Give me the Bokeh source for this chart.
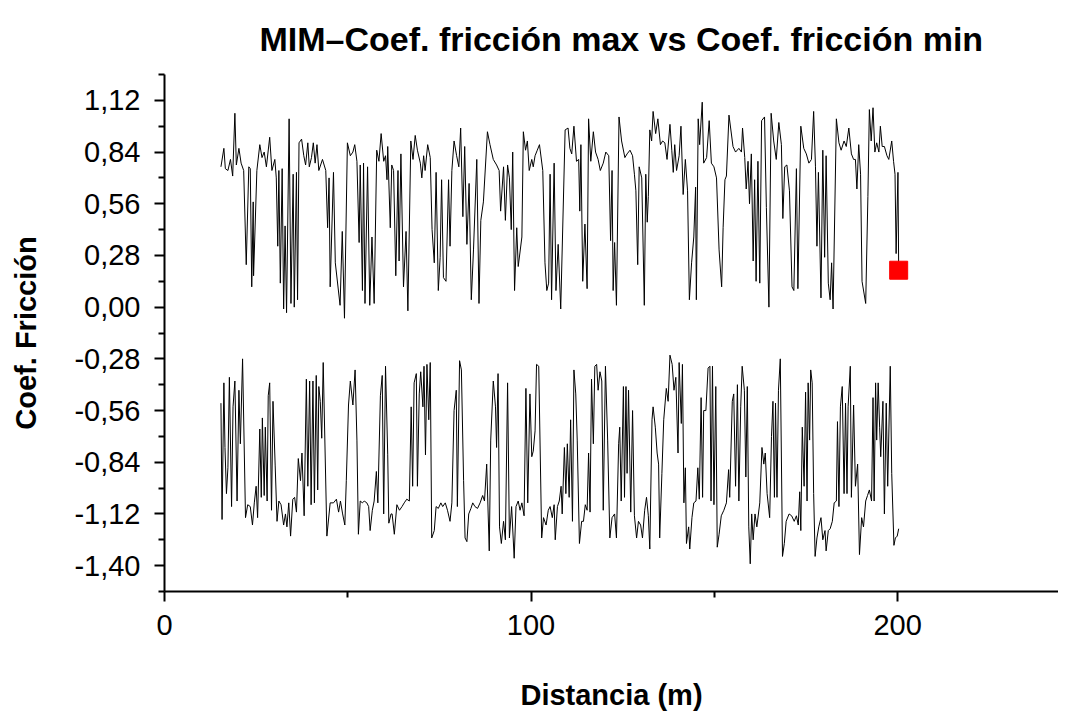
from bokeh.plotting import figure
from bokeh.models import Range1d, FixedTicker
from bokeh.embed import file_html
from bokeh.resources import INLINE

# ---------------- data ----------------
title_text = "MIM\u2013Coef. fricción max vs Coef. fricción min"
x_label = "Distancia (m)"
y_label = "Coef. Fricción"

x_ticks = [0, 100, 200]
x_minor = [50, 150]
y_ticks = [-1.40, -1.12, -0.84, -0.56, -0.28, 0.00, 0.28, 0.56, 0.84, 1.12]
y_tick_labels = ["-1,40", "-1,12", "-0,84", "-0,56", "-0,28", "0,00", "0,28", "0,56", "0,84", "1,12"]
y_minor = [-1.54, -1.26, -0.98, -0.70, -0.42, -0.14, 0.14, 0.42, 0.70, 0.98, 1.26]

# Coef. fricción max (distance m, value)
max_pts = [
    (15.4, 0.76), (16.2, 0.86), (16.6, 0.75), (17.3, 0.74), (18.0, 0.80), (18.6, 0.71),
    (19.2, 1.05), (19.6, 0.77), (20.3, 0.86), (20.9, 0.78), (21.6, 0.74), (22.3, 0.23),
    (23.0, 0.76), (23.4, 0.75), (23.8, 0.11), (24.2, 0.57), (24.3, 0.17), (25.2, 0.74),
    (26.0, 0.88), (26.6, 0.81), (27.2, 0.84), (27.8, 0.76), (28.7, 0.92), (29.3, 0.74),
    (30.1, 0.80), (30.5, 0.70), (30.9, 0.33), (31.2, 0.74), (31.6, 0.13), (32.1, 0.75),
    (32.5, -0.01), (32.9, 0.44), (33.3, -0.03), (34.0, 1.02), (34.5, 0.02), (35.1, 0.72),
    (35.4, 0.00), (36.0, 0.73), (36.3, 0.04), (36.7, 0.89), (37.4, 0.91), (38.0, 0.82),
    (38.5, 0.77), (39.1, 0.89), (39.5, 0.76), (40.1, 0.81), (40.6, 0.89), (41.1, 0.78),
    (41.6, 0.88), (42.1, 0.74), (43.1, 0.80), (44.0, 0.74), (44.5, 0.43), (44.9, 0.70),
    (45.2, 0.11), (46.1, 0.73), (46.6, 0.24), (47.9, 0.01), (48.5, 0.41), (49.1, -0.06),
    (49.9, 0.89), (50.7, 0.82), (51.4, 0.84), (51.9, 0.88), (52.5, 0.79), (53.1, 0.35),
    (53.4, 0.77), (54.0, 0.09), (54.3, 0.78), (54.7, 0.02), (55.4, 0.76), (56.0, 0.01),
    (56.6, 0.38), (57.2, 0.02), (57.9, 0.85), (58.5, 0.79), (59.1, 0.94), (59.8, 0.79),
    (60.3, 0.82), (60.7, 0.69), (60.9, 0.87), (61.6, 0.43), (62.0, 0.77), (62.5, 0.74),
    (63.1, 0.17), (63.7, 0.74), (64.0, 0.25), (64.5, 0.83), (65.2, 0.11), (65.9, 0.41),
    (66.4, -0.02), (67.2, 0.90), (67.8, 0.80), (68.4, 0.93), (69.0, 0.85), (69.8, 0.78),
    (70.2, 0.70), (70.7, 0.82), (71.1, 0.74), (71.8, 0.88), (72.5, 0.81), (73.0, 0.42),
    (73.6, 0.24), (74.1, 0.73), (74.7, 0.09), (75.2, 0.27), (75.6, 0.69), (76.1, 0.16),
    (76.8, 0.14), (77.5, 0.69), (77.9, 0.33), (78.4, 0.74), (79.0, 0.90), (79.7, 0.82),
    (80.3, 0.76), (80.8, 0.97), (81.4, 0.49), (81.9, 0.87), (82.5, 0.34), (83.1, 0.67),
    (83.7, 0.04), (84.3, 0.31), (85.2, 0.80), (85.8, 0.02), (86.3, 0.47), (87.0, 0.57),
    (88.1, 0.95), (88.8, 0.88), (89.7, 0.80), (90.6, 0.77), (91.3, 0.74), (91.7, 0.52),
    (92.5, 0.76), (93.0, 0.47), (93.6, 0.77), (94.1, 0.70), (94.6, 0.42), (95.0, 0.84),
    (95.5, 0.09), (96.1, 0.43), (96.5, 0.22), (97.5, 0.38), (97.9, 0.95), (98.5, 0.85),
    (99.0, 0.90), (99.5, 0.74), (100.2, 0.80), (100.6, 0.76), (101.1, 0.82), (101.7, 0.85),
    (102.3, 0.88), (103.2, 0.74), (103.8, 0.24), (104.3, 0.09), (104.8, 0.13), (105.2, 0.72),
    (105.6, 0.04), (106.3, 0.78), (106.8, 0.09), (107.4, 0.34), (108.1, -0.01), (109.3, 0.96),
    (110.1, 0.97), (110.6, 0.86), (111.1, 0.83), (111.7, 0.98), (112.4, 0.79), (113.0, 0.80),
    (113.3, 0.52), (113.6, 0.88), (114.1, 0.14), (114.7, 0.45), (115.3, 0.10), (115.7, 1.02),
    (116.3, 0.79), (117.0, 0.95), (117.6, 0.84), (118.3, 0.80), (118.9, 0.74), (119.7, 0.78),
    (120.4, 0.84), (121.2, 0.82), (121.7, 0.36), (122.1, 0.74), (122.4, 0.09), (122.8, 0.35),
    (123.3, 0.01), (124.0, 1.03), (124.7, 0.90), (125.6, 0.81), (126.2, 0.83), (127.0, 0.85),
    (127.7, 0.82), (128.2, 0.72), (128.6, 0.63), (129.1, 0.23), (129.5, 0.76), (130.2, 0.70),
    (130.9, 0.01), (131.3, 0.72), (131.7, 0.46), (132.0, 0.60), (132.4, 0.96), (132.9, 0.90),
    (133.3, 1.06), (134.0, 0.94), (134.6, 1.02), (135.3, 0.88), (135.9, 0.90), (136.5, 0.89),
    (137.1, 0.80), (137.9, 0.99), (138.4, 0.85), (138.8, 0.73), (139.2, 0.88), (139.7, 0.74),
    (140.4, 0.82), (140.9, 0.98), (141.5, 0.61), (142.1, 0.80), (142.7, 0.63), (143.2, 0.04),
    (143.8, 0.24), (144.4, 0.38), (144.9, 0.65), (145.1, 0.04), (145.6, 1.02), (146.0, 0.88),
    (146.7, 1.11), (147.1, 0.78), (147.9, 0.81), (148.6, 1.01), (149.2, 0.78), (149.9, 0.76),
    (150.6, 0.70), (151.3, 0.31), (152.0, 0.11), (152.4, 0.43), (152.9, 0.69), (153.3, 0.71),
    (154.0, 1.04), (155.1, 0.87), (155.8, 0.84), (156.7, 0.86), (157.4, 0.84), (157.7, 0.97),
    (158.3, 0.81), (158.7, 0.64), (159.2, 0.79), (159.6, 0.56), (160.1, 0.83), (160.6, 0.25),
    (161.0, 0.69), (161.4, 0.14), (161.9, 0.79), (162.4, 0.13), (162.9, 1.01), (163.7, 1.03),
    (164.2, 0.54), (164.9, 0.00), (165.5, 1.05), (166.2, 0.90), (166.9, 0.80), (167.6, 1.00),
    (168.3, 0.88), (168.7, 0.48), (169.2, 0.76), (169.8, 0.77), (170.5, 0.63), (171.2, 0.11),
    (171.7, 0.09), (172.4, 0.75), (172.8, 0.10), (173.6, 0.98), (174.4, 0.86), (175.1, 0.83),
    (175.8, 0.78), (176.5, 0.80), (177.1, 1.06), (177.6, 0.76), (178.0, 0.33), (178.4, 0.73),
    (179.1, 0.05), (179.6, 0.85), (180.1, 0.27), (180.5, 0.82), (181.1, 0.13), (181.6, 0.04),
    (182.0, 0.24), (182.4, -0.01), (183.3, 1.02), (184.0, 0.89), (184.6, 0.85), (185.4, 0.90),
    (186.0, 0.87), (186.7, 0.97), (187.4, 0.83), (188.0, 0.80), (188.5, 0.80), (188.9, 0.64),
    (189.4, 0.88), (189.9, 0.72), (190.3, 0.14), (191.3, 0.02), (191.9, 0.60), (192.3, 1.07),
    (192.8, 0.90), (193.3, 1.08), (193.8, 0.84), (194.3, 0.89), (194.9, 0.84), (195.3, 0.98),
    (195.8, 0.87), (196.4, 0.87), (197.1, 0.82), (197.6, 0.80), (198.4, 0.90), (198.9, 0.79),
    (199.3, 0.72), (199.6, 0.29), (200.1, 0.73), (200.3, 0.20),
]

# Coef. fricción min (distance m, value)
min_pts = [
    (15.4, -0.52), (15.7, -1.15), (16.2, -0.41), (16.5, -0.76), (16.9, -1.01), (17.3, -0.87),
    (17.7, -0.38), (18.3, -1.08), (18.7, -0.54), (19.2, -0.40), (19.8, -1.05), (20.3, -0.45),
    (20.7, -0.74), (21.3, -0.28), (22.1, -1.14), (22.7, -1.07), (23.4, -1.08), (24.0, -1.18),
    (24.5, -1.06), (25.0, -0.97), (25.4, -1.14), (26.0, -0.66), (26.4, -1.03), (26.7, -0.60),
    (27.2, -1.02), (27.5, -0.65), (28.0, -1.05), (28.3, -0.48), (28.7, -0.41), (29.2, -1.10),
    (29.6, -0.51), (30.2, -0.86), (30.7, -1.16), (31.2, -1.05), (31.8, -1.07), (32.5, -1.18),
    (33.0, -1.12), (33.4, -1.19), (33.9, -1.06), (34.4, -1.24), (35.0, -1.04), (35.5, -1.03),
    (36.0, -1.11), (36.5, -0.82), (37.1, -0.94), (37.5, -0.79), (38.1, -1.13), (38.7, -0.39),
    (39.1, -0.97), (39.6, -0.40), (40.0, -1.07), (40.5, -0.40), (40.9, -1.06), (41.4, -0.37),
    (41.8, -0.99), (42.1, -0.43), (42.5, -0.51), (42.9, -0.71), (43.3, -0.30), (44.3, -1.24),
    (45.2, -1.06), (46.1, -1.06), (46.9, -1.04), (47.5, -1.11), (48.0, -1.05), (48.6, -1.12),
    (49.2, -1.18), (49.6, -0.94), (50.2, -0.53), (50.7, -0.40), (51.4, -0.53), (52.0, -0.34),
    (52.5, -0.72), (52.9, -1.23), (53.4, -1.05), (54.0, -1.06), (54.5, -1.05), (55.2, -1.06),
    (55.7, -1.08), (56.1, -1.21), (56.7, -1.10), (57.2, -1.05), (57.8, -0.89), (58.2, -1.06),
    (58.9, -0.48), (59.4, -0.37), (59.8, -1.12), (60.3, -0.32), (60.9, -0.80), (61.2, -1.17),
    (61.8, -1.12), (62.1, -1.12), (62.7, -1.23), (63.4, -1.07), (64.1, -1.10), (64.8, -1.08),
    (65.4, -1.06), (66.1, -1.04), (66.8, -1.05), (67.3, -0.54), (67.7, -0.97), (68.1, -0.41),
    (68.7, -0.36), (69.0, -0.97), (69.5, -0.47), (69.9, -0.35), (70.5, -0.54), (70.8, -0.32),
    (71.2, -0.80), (71.6, -0.31), (72.1, -0.61), (72.5, -0.30), (72.9, -1.25), (73.6, -1.21),
    (74.1, -1.08), (74.7, -1.09), (75.4, -1.06), (75.9, -1.08), (76.6, -1.06), (77.2, -1.10),
    (77.9, -1.16), (78.4, -1.06), (79.0, -0.56), (79.6, -0.45), (79.9, -1.08), (80.5, -0.29),
    (81.0, -0.34), (81.6, -0.94), (82.0, -1.25), (82.5, -1.27), (83.0, -1.12), (83.6, -1.09),
    (84.1, -1.06), (84.7, -1.08), (85.4, -1.09), (86.1, -1.06), (86.8, -1.02), (87.3, -1.05),
    (87.9, -0.85), (88.6, -1.32), (89.0, -0.72), (89.7, -0.40), (90.3, -0.54), (90.6, -0.76),
    (91.0, -0.36), (91.4, -1.19), (91.9, -1.28), (92.5, -1.16), (93.0, -1.26), (93.6, -0.41),
    (94.1, -1.25), (94.7, -1.08), (95.4, -1.36), (95.9, -1.08), (96.5, -1.05), (97.0, -1.10),
    (97.5, -1.06), (98.1, -1.13), (98.6, -0.44), (99.1, -1.06), (99.7, -0.47), (100.2, -0.81),
    (100.6, -0.78), (101.1, -0.67), (101.5, -0.31), (102.1, -0.32), (102.9, -1.25), (103.4, -1.14),
    (104.1, -1.18), (104.7, -1.10), (105.2, -1.08), (105.8, -1.14), (106.3, -1.07), (106.6, -1.26),
    (107.2, -1.08), (107.7, -1.05), (108.2, -0.97), (108.5, -1.12), (109.1, -0.76), (109.5, -1.01),
    (109.9, -0.74), (110.4, -1.03), (110.8, -0.61), (111.3, -1.16), (111.7, -0.34), (112.2, -0.47),
    (112.6, -0.72), (113.2, -1.28), (113.8, -1.16), (114.3, -1.16), (114.8, -1.07), (115.3, -1.10),
    (115.7, -0.79), (116.1, -1.11), (116.5, -0.39), (117.0, -0.74), (117.4, -0.32), (117.9, -0.31),
    (118.3, -0.45), (118.8, -0.35), (119.3, -0.40), (119.7, -1.10), (120.3, -0.32), (120.9, -0.72),
    (121.5, -1.25), (122.1, -1.14), (122.8, -1.12), (123.3, -1.25), (123.9, -0.74), (124.2, -0.65),
    (124.6, -1.05), (125.2, -0.43), (125.5, -1.03), (125.9, -0.43), (126.2, -0.90), (126.6, -0.45),
    (127.2, -1.11), (127.7, -0.56), (128.2, -1.13), (128.8, -1.25), (129.3, -1.16), (129.9, -1.18),
    (130.4, -1.25), (131.0, -1.10), (131.5, -1.03), (132.0, -1.13), (132.4, -1.31), (133.0, -0.61),
    (133.3, -0.54), (133.9, -0.65), (134.4, -0.79), (134.8, -0.85), (135.1, -1.25), (135.7, -0.90),
    (136.2, -0.61), (136.9, -0.44), (137.4, -0.51), (137.9, -0.26), (138.5, -0.31), (139.0, -0.45),
    (139.5, -0.38), (140.1, -0.79), (140.4, -0.30), (141.0, -0.63), (141.3, -0.31), (141.7, -1.06),
    (142.1, -0.87), (142.4, -1.28), (143.0, -1.19), (143.3, -1.31), (143.9, -1.14), (144.4, -1.06),
    (145.0, -1.05), (145.5, -0.87), (145.9, -1.04), (146.4, -0.49), (146.8, -1.03), (147.1, -0.56),
    (147.7, -0.56), (148.3, -0.33), (148.8, -0.32), (149.1, -1.05), (149.5, -0.32), (149.9, -1.07),
    (150.4, -0.43), (150.8, -1.30), (151.3, -1.23), (151.9, -1.13), (152.6, -1.10), (153.3, -1.06),
    (153.9, -0.88), (154.2, -1.03), (154.9, -0.51), (155.3, -0.47), (155.8, -0.97), (156.3, -0.42),
    (156.7, -1.05), (157.2, -0.54), (157.6, -0.32), (158.2, -0.45), (158.6, -0.92), (159.0, -0.43),
    (159.4, -1.19), (159.8, -1.39), (160.2, -1.12), (160.6, -1.26), (161.1, -1.12), (161.6, -1.19),
    (162.4, -1.06), (163.0, -0.76), (163.5, -0.85), (163.9, -0.79), (164.4, -1.01), (165.1, -1.14),
    (165.6, -0.70), (166.0, -0.51), (166.4, -1.03), (166.7, -0.52), (167.1, -1.03), (167.5, -0.45),
    (168.0, -0.28), (168.6, -1.35), (169.1, -1.28), (169.6, -1.16), (170.4, -1.12), (171.1, -1.13),
    (171.8, -1.16), (172.4, -1.13), (172.9, -1.18), (173.3, -1.00), (173.6, -1.21), (174.0, -0.65),
    (174.5, -0.97), (174.9, -0.46), (175.3, -1.05), (175.6, -0.41), (176.0, -0.72), (176.3, -0.34),
    (176.7, -0.41), (177.1, -1.01), (177.5, -1.35), (178.0, -1.25), (178.5, -1.19), (179.1, -1.14),
    (179.6, -1.26), (180.2, -1.21), (180.5, -1.32), (181.1, -1.21), (181.6, -1.20), (182.2, -1.16),
    (182.7, -1.06), (183.3, -1.05), (183.6, -0.62), (184.0, -1.08), (184.4, -0.54), (184.9, -0.43),
    (185.4, -1.01), (185.8, -0.52), (186.2, -1.01), (186.5, -0.54), (187.1, -0.32), (187.4, -1.03),
    (188.0, -0.53), (188.5, -0.97), (189.1, -0.85), (189.6, -1.34), (190.2, -1.14), (190.7, -1.19),
    (191.3, -1.05), (191.8, -1.02), (192.3, -0.99), (192.9, -1.05), (193.3, -0.49), (193.6, -1.05),
    (194.0, -0.41), (194.3, -0.72), (194.7, -0.41), (195.1, -0.65), (195.4, -0.81), (196.0, -0.51),
    (196.4, -1.12), (196.9, -0.52), (197.3, -0.97), (198.0, -0.32), (198.4, -0.90), (199.0, -1.29),
    (199.4, -1.25), (199.9, -1.24), (200.3, -1.20),
]

# highlighted last point
marker_x = [200.3]
marker_y = [0.20]

# ---------------- figure ----------------
max_x = [pt[0] for pt in max_pts]
max_y = [pt[1] for pt in max_pts]
min_x = [pt[0] for pt in min_pts]
min_y = [pt[1] for pt in min_pts]

FONT = "Liberation Sans"

p = figure(width=1058, height=713,
           x_range=Range1d(0, 243.9), y_range=Range1d(-1.54, 1.26),
           output_backend="svg", toolbar_location=None,
           min_border_left=164, min_border_right=0,
           min_border_top=74, min_border_bottom=110,
           title=title_text)

p.line(max_x, max_y, line_color="black", line_width=1)
p.line(min_x, min_y, line_color="black", line_width=1)
p.scatter(marker_x, marker_y, marker="square", size=18,
          fill_color="#ff0000", line_color="#ff0000")

p.title.text_font = FONT
p.title.text_font_size = "34px"
p.title.text_font_style = "bold"
p.title.text_color = "black"
p.title.align = "left"
p.title.offset = 95
p.title.standoff = 33

p.grid.visible = False
p.outline_line_color = None
p.background_fill_color = "white"
p.border_fill_color = "white"

p.xaxis.ticker = FixedTicker(ticks=x_ticks, minor_ticks=x_minor)
p.yaxis.ticker = FixedTicker(ticks=y_ticks, minor_ticks=y_minor)
p.yaxis.major_label_overrides = dict(zip(y_ticks, y_tick_labels))

p.xaxis.axis_label = x_label
p.yaxis.axis_label = y_label

for ax in (p.xaxis[0], p.yaxis[0]):
    ax.axis_line_width = 2
    ax.axis_line_color = "black"
    ax.major_tick_line_width = 2
    ax.minor_tick_line_width = 2
    ax.major_tick_line_color = "black"
    ax.minor_tick_line_color = "black"
    ax.major_tick_in = 0
    ax.major_tick_out = 10
    ax.minor_tick_in = 0
    ax.minor_tick_out = 6
    ax.major_label_text_font = FONT
    ax.major_label_text_font_size = "29px"
    ax.major_label_text_color = "black"
    ax.axis_label_text_font = FONT
    ax.axis_label_text_font_size = "29px"
    ax.axis_label_text_font_style = "bold"
    ax.axis_label_text_color = "black"

p.xaxis.major_label_standoff = 13
p.yaxis.major_label_standoff = 14
p.xaxis.axis_label_standoff = 41
p.yaxis.axis_label_standoff = 29
p.yaxis.major_label_orientation = "horizontal"

open("out.html", "w").write(file_html(p, INLINE))
